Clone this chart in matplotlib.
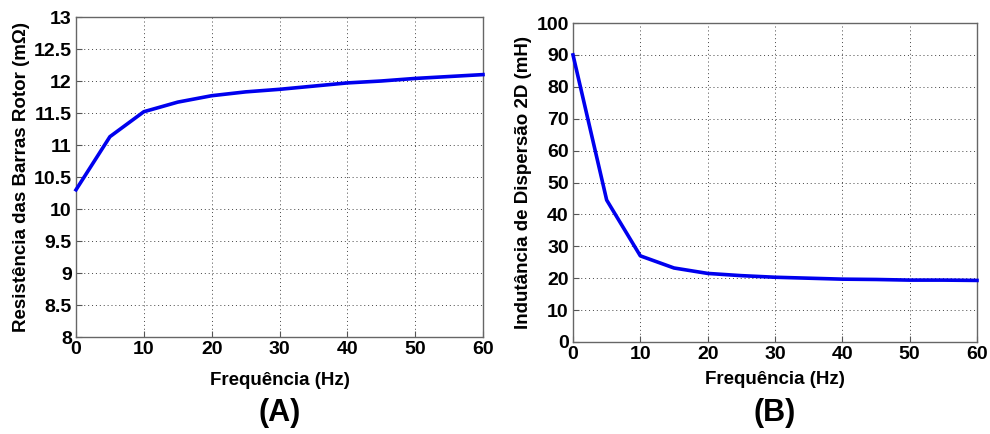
import matplotlib
matplotlib.use("Agg")
from matplotlib import pyplot as plt

# data
freq = [0, 5, 10, 15, 20, 25, 30, 35, 40, 45, 50, 55, 60]
resist = [10.30, 11.13, 11.52, 11.67, 11.77, 11.83, 11.87, 11.92, 11.97, 12.00, 12.04, 12.07, 12.10]
indut = [90.0, 44.5, 27.0, 23.2, 21.5, 20.8, 20.3, 20.0, 19.7, 19.6, 19.4, 19.4, 19.3]

x_ticks = list(range(0, 61, 10))
a_ticks = [8, 8.5, 9, 9.5, 10, 10.5, 11, 11.5, 12, 12.5, 13]
a_ticklabels = ["8", "8.5", "9", "9.5", "10", "10.5", "11", "11.5", "12", "12.5", "13"]
b_ticks = list(range(0, 101, 10))

plt.rcParams["font.family"] = ["Liberation Sans", "DejaVu Sans"]
plt.rcParams["font.weight"] = "bold"

fig = plt.figure(figsize=(9.9, 4.34), dpi=100)
W, H = 990, 434
axA = fig.add_axes([76 / W, 1 - 337 / H, (483 - 76) / W, (337 - 17) / H])
axB = fig.add_axes([573 / W, 1 - 342 / H, (977 - 573) / W, (342 - 23) / H])

panels = [
    (axA, resist, (8, 13), a_ticks, a_ticklabels, "Resistência das Barras Rotor (mΩ)", "(A)", 10),
    (axB, indut, (0, 100), b_ticks, [str(t) for t in b_ticks], "Indutância de Dispersão 2D (mH)", "(B)", 6),
]
for ax, y, ylim, yt, ytl, ylabel, tag, xpad in panels:
    ax.plot(freq, y, color="#0000ee", lw=2.6, clip_on=False, zorder=5)
    ax.set_xlim(0, 60)
    ax.set_ylim(*ylim)
    ax.set_xticks(x_ticks)
    ax.set_yticks(yt)
    ax.set_yticklabels(ytl)
    ax.grid(True, ls=(0, (1, 3)), color="#444444", lw=0.7)
    ax.tick_params(direction="in", length=4, color="#555555", pad=3, labelsize=14)
    for s in ax.spines.values():
        s.set_color("#666666")
        s.set_linewidth(1.0)
    ax.set_xlabel("Frequência (Hz)", fontsize=13.5, fontweight="bold", labelpad=xpad)
    ax.set_ylabel(ylabel, fontsize=13.5, fontweight="bold", labelpad=3)
    pos = ax.get_position()
    fig.text((pos.x0 + pos.x1) / 2, 1 - 413 / H, tag, ha="center", va="center",
             fontsize=22, fontweight="bold")

fig.savefig("out.png", dpi=100)
